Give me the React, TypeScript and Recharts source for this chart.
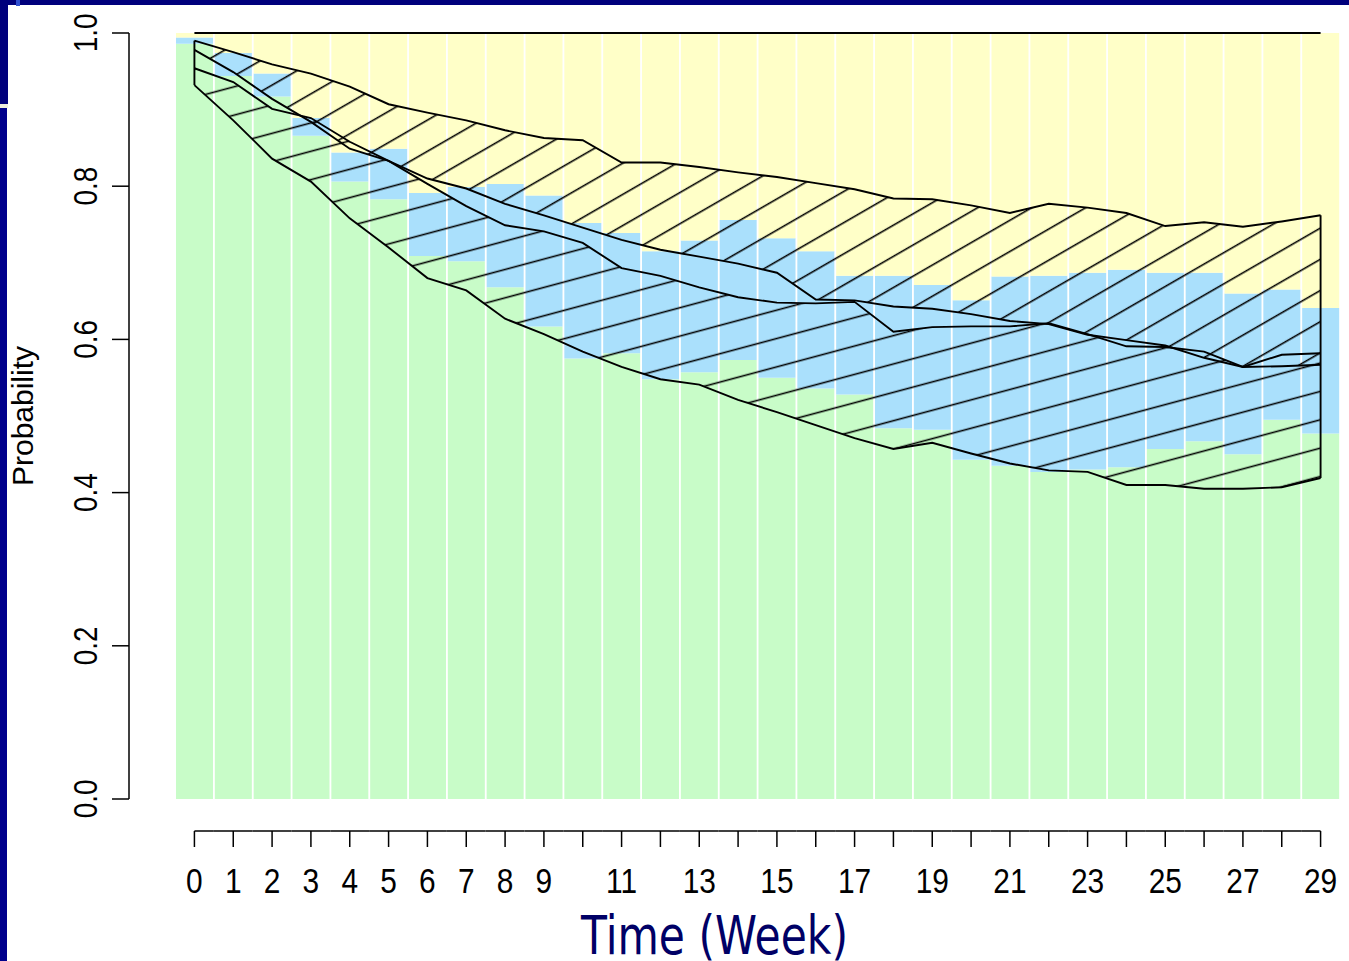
import React from 'react';
import { ComposedChart, Bar, Area, XAxis, YAxis, ReferenceLine, Label } from 'recharts';

// weeks on the x axis
const weeks = [0, 1, 2, 3, 4, 5, 6, 7, 8, 9, 10, 11, 12, 13, 14, 15, 16, 17, 18, 19, 20, 21, 22, 23, 24, 25, 26, 27, 28, 29];
// only these week numbers get a printed label
const weekLabels = [0, 1, 2, 3, 4, 5, 6, 7, 8, 9, 11, 13, 15, 17, 19, 21, 23, 25, 27, 29];
const yTicks = [0, 0.2, 0.4, 0.6, 0.8, 1.0];

// observed share per week, stacked bottom to top
const shareGreen = [0.986, 0.944, 0.917, 0.866, 0.806, 0.783, 0.709, 0.702, 0.668, 0.617, 0.575, 0.582, 0.548, 0.557, 0.573, 0.550, 0.536, 0.528, 0.484, 0.482, 0.443, 0.435, 0.427, 0.430, 0.433, 0.457, 0.467, 0.450, 0.495, 0.477];
const shareBlue = [0.008, 0.030, 0.030, 0.023, 0.038, 0.066, 0.082, 0.097, 0.135, 0.171, 0.177, 0.157, 0.167, 0.172, 0.183, 0.182, 0.179, 0.155, 0.199, 0.189, 0.208, 0.247, 0.256, 0.257, 0.258, 0.230, 0.220, 0.210, 0.170, 0.164];
const shareYellow = [0.006, 0.026, 0.053, 0.111, 0.156, 0.151, 0.209, 0.201, 0.197, 0.212, 0.248, 0.261, 0.285, 0.271, 0.244, 0.268, 0.285, 0.317, 0.317, 0.329, 0.349, 0.318, 0.317, 0.313, 0.309, 0.313, 0.313, 0.340, 0.335, 0.359];

// predicted bands (upper and lower confidence limits)
const upperBandHi = [0.990, 0.975, 0.959, 0.947, 0.930, 0.907, 0.896, 0.886, 0.873, 0.863, 0.860, 0.831, 0.831, 0.825, 0.818, 0.812, 0.804, 0.796, 0.784, 0.783, 0.775, 0.765, 0.777, 0.772, 0.765, 0.748, 0.753, 0.747, 0.754, 0.762];
const upperBandLo = [0.978, 0.949, 0.914, 0.884, 0.849, 0.833, 0.810, 0.797, 0.777, 0.762, 0.746, 0.730, 0.717, 0.708, 0.699, 0.687, 0.652, 0.651, 0.643, 0.640, 0.633, 0.624, 0.620, 0.606, 0.599, 0.592, 0.576, 0.564, 0.565, 0.567];
const lowerBandHi = [0.954, 0.936, 0.901, 0.889, 0.858, 0.833, 0.803, 0.774, 0.749, 0.741, 0.726, 0.693, 0.683, 0.668, 0.655, 0.648, 0.647, 0.649, 0.610, 0.616, 0.617, 0.617, 0.621, 0.607, 0.591, 0.590, 0.584, 0.564, 0.580, 0.582];
const lowerBandLo = [0.932, 0.886, 0.836, 0.806, 0.758, 0.720, 0.680, 0.664, 0.627, 0.607, 0.584, 0.564, 0.548, 0.541, 0.521, 0.505, 0.488, 0.471, 0.457, 0.465, 0.451, 0.438, 0.429, 0.427, 0.410, 0.410, 0.405, 0.405, 0.407, 0.419];

const rows = weeks.map((week, i) => ({
  week,
  green: shareGreen[i],
  blue: shareBlue[i],
  yellow: shareYellow[i],
  upperBand: [upperBandLo[i], upperBandHi[i]],
  lowerBand: [lowerBandLo[i], lowerBandHi[i]],
}));

const last = weeks.length - 1;

// shared layout so the bar chart and the band overlay line up
const W = 1349;
const H = 961;
const MARGIN = { top: 33, right: 9, bottom: 0, left: 0 };
const Y_W = 129;
const X_H = 162;
const PAD_L = 46;
const step = (W - MARGIN.right - Y_W - PAD_L) / weeks.length;

const FONT = '"Liberation Sans", Arial, sans-serif';
const NAVY = '#00007c';
const INK = '#000';
const CURVE_W = 1.9;
const HATCH_W = 1.6;

function WeekTick(props: any) {
  const { x, y, payload, index } = props;
  const x0 = index === 0 ? x : x - step / 2;
  const x1 = index === last ? x : x + step / 2;
  return (
    <g>
      <line x1={x0} x2={x1} y1={y + 32} y2={y + 32} stroke={INK} strokeWidth={1.5} />
      <line x1={x} x2={x} y1={y + 32} y2={y + 48} stroke={INK} strokeWidth={1.5} />
      {weekLabels.includes(payload.value) && (
        <text
          transform={`translate(${x},${y + 94}) scale(0.83,1)`}
          textAnchor="middle"
          fontSize={36}
          fontFamily={FONT}
          fill="#000"
        >
          {payload.value}
        </text>
      )}
    </g>
  );
}

function ProbTick(props: any) {
  const { x, y, payload } = props;
  return (
    <g>
      <line x1={x - 17} x2={x} y1={y} y2={y} stroke={INK} strokeWidth={1.5} />
      <text
        transform={`translate(${x - 32},${y}) rotate(-90) scale(0.82,1)`}
        textAnchor="middle"
        fontSize={34}
        fontFamily={FONT}
        fill="#000"
      >
        {payload.value.toFixed(1)}
      </text>
    </g>
  );
}

function TimeTitle(props: any) {
  const vb = props.viewBox;
  const cx = vb.x + vb.width / 2 - 20;
  return (
    <text
      x={cx}
      y={vb.y + 155}
      textAnchor="middle"
      fontSize={53}
      fontFamily='"DejaVu Sans", Verdana, sans-serif'
      fill="#000066"
      textLength={267}
      lengthAdjust="spacingAndGlyphs"
    >
      Time (Week)
    </text>
  );
}

function ProbTitle(props: any) {
  const vb = props.viewBox;
  const cy = vb.y + vb.height / 2;
  return (
    <text
      transform={`translate(33,${cy}) rotate(-90)`}
      textAnchor="middle"
      fontSize={30}
      fontFamily={FONT}
      fill="#000"
    >
      Probability
    </text>
  );
}

const layer: React.CSSProperties = { position: 'absolute', left: 0, top: 0 };

export default function App() {
  return (
    <div style={{ position: 'absolute', left: 0, top: 0, width: W, height: H, background: '#fff', overflow: 'hidden' }}>
      {/* stacked bars with axes */}
      <div style={layer}>
        <ComposedChart width={W} height={H} data={rows} margin={MARGIN} barCategoryGap={1}>
          <XAxis
            dataKey="week"
            type="category"
            height={X_H}
            padding={{ left: PAD_L, right: 0 }}
            interval={0}
            axisLine={false}
            tickLine={false}
            tickSize={0}
            tickMargin={0}
            tick={<WeekTick />}
          >
            <Label content={<TimeTitle />} />
          </XAxis>
          <YAxis
            type="number"
            domain={[0, 1]}
            ticks={yTicks}
            allowDataOverflow
            width={Y_W}
            axisLine={{ stroke: INK, strokeWidth: 1.5 }}
            tickLine={false}
            tickSize={0}
            tickMargin={0}
            tick={<ProbTick />}
          >
            <Label content={<ProbTitle />} />
          </YAxis>
          <Bar dataKey="green" stackId="s" fill="#c8fcc8" isAnimationActive={false} />
          <Bar dataKey="blue" stackId="s" fill="#aae0fc" isAnimationActive={false} />
          <Bar dataKey="yellow" stackId="s" fill="#ffffc8" isAnimationActive={false} />
        </ComposedChart>
      </div>

      {/* hatched prediction bands drawn over the bars; a see-through bar keeps the same band scale */}
      <div style={layer}>
        <ComposedChart width={W} height={H} data={rows} margin={MARGIN} barCategoryGap={1}>
          <defs>
            <pattern id="hatchSteep" patternUnits="userSpaceOnUse" width={12} height={27} patternTransform="rotate(-30)">
              <line x1={0} x2={12} y1={20.7} y2={20.7} stroke={INK} strokeWidth={HATCH_W} />
            </pattern>
            <pattern id="hatchFlat" patternUnits="userSpaceOnUse" width={12} height={27.4} patternTransform="rotate(-15)">
              <line x1={0} x2={12} y1={7.4} y2={7.4} stroke={INK} strokeWidth={HATCH_W} />
            </pattern>
          </defs>
          <XAxis
            dataKey="week"
            type="category"
            height={X_H}
            padding={{ left: PAD_L, right: 0 }}
            axisLine={false}
            tickLine={false}
            tick={false}
          />
          <YAxis type="number" domain={[0, 1]} allowDataOverflow width={Y_W} axisLine={false} tickLine={false} tick={false} />
          <Bar dataKey="green" fill="none" fillOpacity={0} isAnimationActive={false} />
          <Area
            type="linear"
            dataKey="upperBand"
            fill="url(#hatchSteep)"
            fillOpacity={1}
            stroke={INK}
            strokeWidth={CURVE_W}
            dot={false}
            activeDot={false}
            isAnimationActive={false}
          />
          <Area
            type="linear"
            dataKey="lowerBand"
            fill="url(#hatchFlat)"
            fillOpacity={1}
            stroke={INK}
            strokeWidth={CURVE_W}
            dot={false}
            activeDot={false}
            isAnimationActive={false}
          />
          <ReferenceLine segment={[{ x: weeks[0], y: 1 }, { x: weeks[last], y: 1 }]} stroke={INK} strokeWidth={CURVE_W} />
          <ReferenceLine
            segment={[{ x: weeks[0], y: lowerBandLo[0] }, { x: weeks[0], y: upperBandHi[0] }]}
            stroke={INK}
            strokeWidth={CURVE_W}
          />
          <ReferenceLine
            segment={[{ x: weeks[last], y: lowerBandLo[last] }, { x: weeks[last], y: upperBandHi[last] }]}
            stroke={INK}
            strokeWidth={CURVE_W}
          />
        </ComposedChart>
      </div>

      {/* slide frame */}
      <div style={{ position: 'absolute', left: 0, top: 0, width: W, height: 5, background: NAVY }} />
      <div style={{ position: 'absolute', left: 0, top: 0, width: 8, height: 104, background: NAVY }} />
      <div style={{ position: 'absolute', left: 0, top: 104, width: 8, height: 4, background: '#eeeedd' }} />
      <div style={{ position: 'absolute', left: 0, top: 108, width: 7, height: H - 108, background: '#00008c' }} />
      <div style={{ position: 'absolute', left: 16, top: 0, width: 4, height: 6, background: '#2f4fd0' }} />
    </div>
  );
}
